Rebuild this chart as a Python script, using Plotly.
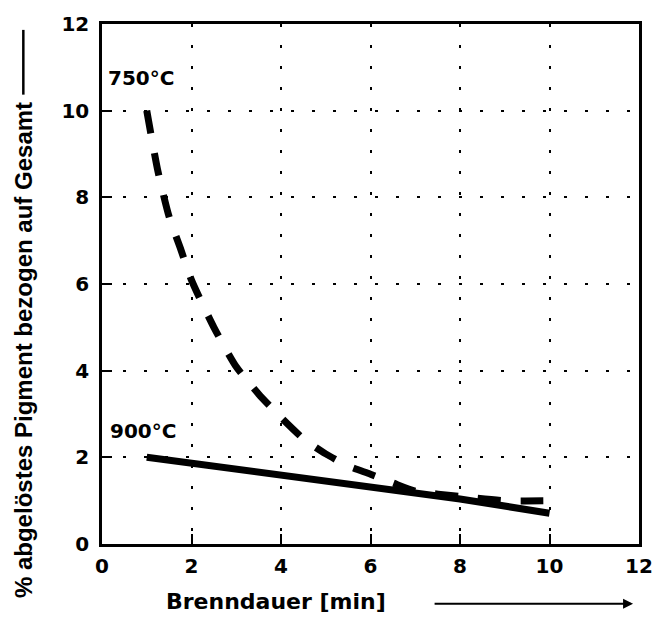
import plotly.graph_objects as go

# Data
x_750 = [1.0, 1.25, 1.5, 1.75, 2.0, 2.5, 3.0, 3.5, 4.0, 4.5, 5.0, 5.5, 6.0, 6.5, 7.0, 8.0, 9.0, 10.0]
y_750 = [10.0, 8.6, 7.55, 6.83, 6.09, 5.0, 4.09, 3.46, 2.92, 2.43, 2.08, 1.80, 1.61, 1.41, 1.22, 1.10, 1.0, 1.0]
x_900 = [1, 2, 4, 6, 8, 10]
y_900 = [2.0, 1.86, 1.56, 1.29, 1.04, 0.71]
x_ticks = [0, 2, 4, 6, 8, 10, 12]
y_ticks = [0, 2, 4, 6, 8, 10, 12]
label_750 = "750°C"
label_900 = "900°C"
x_title = "Brenndauer [min]"
y_title = "% abgelöstes Pigment bezogen auf Gesamt"

BOLD = "DejaVu Sans"
NARROW = "Liberation Sans"

fig = go.Figure()
fig.add_trace(go.Scatter(x=x_750, y=y_750, mode="lines",
                         line=dict(color="black", width=7, dash="23px,20px", shape="spline", smoothing=0.6),
                         showlegend=False))
fig.add_trace(go.Scatter(x=x_900, y=y_900, mode="lines",
                         line=dict(color="black", width=7),
                         showlegend=False))

axis_common = dict(
    showline=True, linecolor="black", linewidth=2.5, mirror=True,
    ticks="inside", ticklen=10, tickwidth=2, tickcolor="black",
    showgrid=True, gridcolor="black", gridwidth=1.5, griddash="3px,18px",
    zeroline=False,
    tickfont=dict(family=BOLD, size=20, color="black"),
)

fig.update_xaxes(range=[0, 12], tickvals=x_ticks,
                 ticktext=[f"<b>{v}</b>" for v in x_ticks], ticklabelstandoff=2, **axis_common)
fig.update_yaxes(range=[0, 12], tickvals=y_ticks,
                 ticktext=[f"<b>{v}</b>" for v in y_ticks], ticklabelstandoff=6, **axis_common)

fig.add_annotation(x=0.1, y=10.75, xref="x", yref="y", text=f"<b>{label_750}</b>", showarrow=False,
                   xanchor="left", yanchor="middle",
                   font=dict(family=BOLD, size=20, color="black"))
fig.add_annotation(x=0.13, y=2.6, xref="x", yref="y", text=f"<b>{label_900}</b>", showarrow=False,
                   xanchor="left", yanchor="middle",
                   font=dict(family=BOLD, size=20, color="black"))

# x title and arrow
fig.add_annotation(x=0.324, y=-0.111, xref="paper", yref="paper", text=f"<b>{x_title}</b>", showarrow=False,
                   xanchor="center", yanchor="middle",
                   font=dict(family=BOLD, size=22, color="black"))
fig.add_annotation(x=0.989, y=-0.115, xref="paper", yref="paper", text="", showarrow=True,
                   ax=-200, ay=0, arrowhead=2, arrowwidth=2, arrowsize=1, arrowcolor="black")

# y title and trailing rule
fig.add_annotation(x=-0.1465, y=0.3736, xref="paper", yref="paper", text=f"<b>{y_title}</b>", showarrow=False,
                   textangle=-90, xanchor="center", yanchor="middle",
                   font=dict(family=NARROW, size=24, color="black"))
fig.add_shape(type="line", xref="paper", yref="paper",
              x0=-0.1465, x1=-0.1465, y0=(544 - 86) / 530, y1=(544 - 20) / 530,
              line=dict(color="black", width=2.5))

fig.update_layout(
    width=665, height=627,
    margin=dict(l=102, r=17, t=14, b=83),
    paper_bgcolor="white", plot_bgcolor="white",
    showlegend=False,
)

fig.write_html("out.html")
